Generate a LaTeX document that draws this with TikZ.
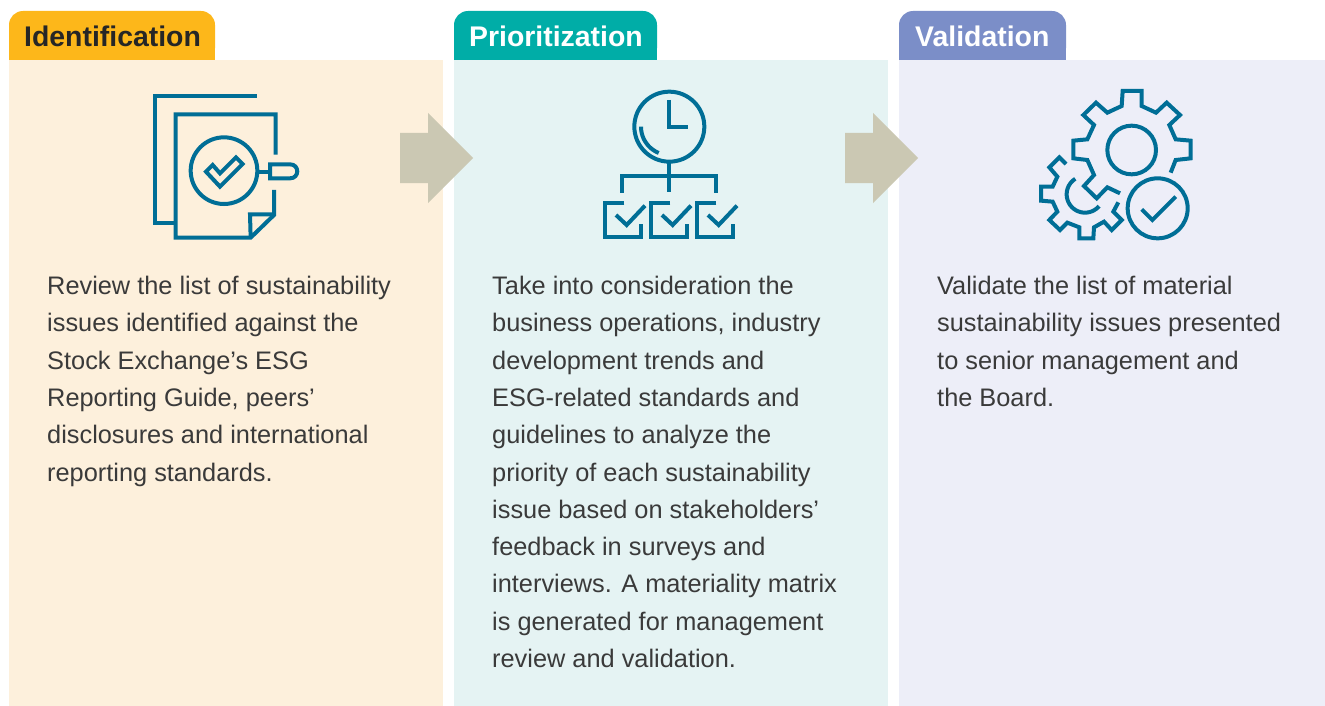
\documentclass[tikz,border=0pt]{standalone}
\usepackage{fontspec}
\setmainfont{Liberation Sans}
\definecolor{icon}{HTML}{006E96}
\definecolor{txt}{HTML}{3A3A3A}
\definecolor{tabA}{HTML}{FDB71A}
\definecolor{tabB}{HTML}{00ADA7}
\definecolor{tabC}{HTML}{7B8EC8}
\definecolor{panA}{HTML}{FDF0DC}
\definecolor{panB}{HTML}{E5F3F3}
\definecolor{panC}{HTML}{EDEEF8}
\definecolor{arr}{HTML}{CBC8B3}
\tikzset{
  panel/.style={inner sep=0pt,outer sep=0pt,anchor=north west},
  tabfill/.style={rounded corners=14pt},
  tablabel/.style={anchor=base west,inner sep=0pt,font=\fontsize{28.4}{32}\selectfont\bfseries},
  body/.style={anchor=north west,inner sep=0pt,align=left,text=txt,font=\fontsize{25.35}{37.3}\selectfont},
  ico/.style={draw=icon,line width=4pt,line join=miter,fill=none},
  zoomed/.style={x=0.33333pt,y=-0.33333pt}
}
\begin{document}
\begin{tikzpicture}[x=1pt,y=-1pt]
\useasboundingbox (0,0) rectangle (1325,706);
% tabs
\fill[tabA,tabfill] (9,62) -- (9,11) -- (215,11) -- (215,62) -- cycle;
\fill[tabB,tabfill] (454,62) -- (454,11) -- (657,11) -- (657,62) -- cycle;
\fill[tabC,tabfill] (899,62) -- (899,11) -- (1066,11) -- (1066,62) -- cycle;
\fill[tabA] (9,40) rectangle (215,62);
\fill[tabB] (454,40) rectangle (657,62);
\fill[tabC] (899,40) rectangle (1066,62);
% panels
\node[panel,fill=panA,minimum width=434pt,minimum height=646pt] (p1) at (9,60) {};
\node[panel,fill=panB,minimum width=434pt,minimum height=646pt] (p2) at (454,60) {};
\node[panel,fill=panC,minimum width=426pt,minimum height=646pt] (p3) at (899,60) {};
% tab labels
\node[tablabel,text=black!85] (t1) at (24,46.5) {Identification};
\node[tablabel,text=white] (t2) at (469,46.5) {Prioritization};
\node[tablabel,text=white] (t3) at (915,46.5) {Validation};
% arrows
\fill[arr] (400,133) -- (428,133) -- (428,113) -- (473,158) -- (428,203) -- (428,183) -- (400,183) -- cycle;
\fill[arr] (845,133) -- (873,133) -- (873,113) -- (918,158) -- (873,203) -- (873,183) -- (845,183) -- cycle;
% body text
\node[body] (b1) at (47,276) {Review the list of sustainability\\issues identified against the\\Stock Exchange’s ESG\\Reporting Guide, peers’\\disclosures and international\\reporting standards.};
\node[body] (b2) at (492,276) {Take into consideration the\\business operations, industry\\development trends and\\ESG-related standards and\\guidelines to analyze the\\priority of each sustainability\\issue based on stakeholders’\\feedback in surveys and\\interviews. A materiality matrix\\is generated for management\\review and validation.};
\node[body] (b3) at (937,276) {Validate the list of material\\sustainability issues presented\\to senior management and\\the Board.};
% icon 1
\begin{scope}[shift={(130,80)},zoomed]
\draw[ico] (380,48) -- (75,48) -- (75,428) -- (135,428);
\draw[ico] (437,224) -- (437,103) -- (137,103) -- (137,473) -- (362,473) -- (432,405) -- (432,330);
\draw[ico] (362,473) -- (360,403) -- (432,403);
\draw[ico] (282,272) circle[radius=100];
\draw[ico] (228,275) -- (248,255) -- (270,280) -- (318,232) -- (338,252) -- (270,320) -- cycle;
\draw[ico] (385,275) -- (420,275);
\draw[ico] (480,253) -- (420,253) -- (420,295) -- (480,295) .. controls (509,295) and (509,253) .. (480,253) -- cycle;
\end{scope}
% icon 2
\begin{scope}[shift={(590,80)},zoomed]
\draw[ico] (238,140) circle[radius=105];
\draw[ico] (238,60) -- (238,140) -- (295,140);
\draw[ico] plot[domain=180:112,samples=20] ({238+85*cos(\x)},{140+85*sin(\x)});
\draw[ico] (238,245) -- (238,335);
\draw[ico] (97,338) -- (97,287) -- (378,287) -- (378,338);
\foreach \d in {0,138,276}{
  \draw[ico] (103+\d,370) -- (45+\d,370) -- (45+\d,472) -- (152+\d,472) -- (152+\d,432);
  \draw[ico] (78+\d,405) -- (110+\d,435) -- (165+\d,377);
}
\end{scope}
% icon 3
\begin{scope}[shift={(1030,80)},zoomed]
\draw[ico] (422,278) -- (437,240) -- (482,235) -- (482,182) -- (437,178) -- (418,135) -- (450,105) -- (410,68) -- (378,98) -- (335,78) -- (335,33) -- (278,33) -- (275,78) -- (232,98) -- (198,68) -- (160,105) -- (192,135) -- (172,178) -- (130,182) -- (130,235) -- (172,240) -- (192,285) -- (162,318) -- (200,355) -- (232,322) -- (270,340);
\draw[ico] (305,210) circle[radius=73];
\draw[ico] (108,252) -- (88,232) -- (58,262) -- (82,290) -- (68,320) -- (33,320) -- (33,362) -- (68,365) -- (82,395) -- (58,420) -- (90,450) -- (112,428) -- (148,442) -- (148,475) -- (190,475) -- (192,442) -- (222,425) -- (245,450) -- (275,420) -- (250,395) -- (265,367);
\draw[ico] plot[domain=238:40,samples=30] ({165+55*cos(\x)},{343+55*sin(\x)});
\draw[ico] (383,385) circle[radius=90];
\draw[ico] (335,388) -- (367,420) -- (437,350);
\end{scope}
\end{tikzpicture}
\end{document}
